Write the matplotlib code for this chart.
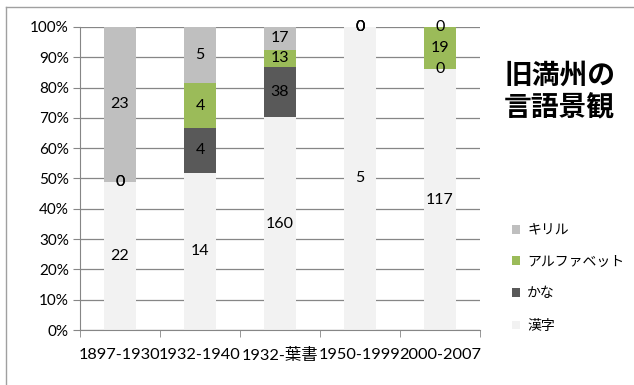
import matplotlib.pyplot as plt
import numpy as np

plt.rcParams['font.family'] = ['Lato', 'Noto Sans CJK JP', 'DejaVu Sans']

categories = ['1897-1930', '1932-1940', '1932-葉書', '1950-1999', '2000-2007']
kanji = [22, 14, 160, 5, 117]
kana = [0, 4, 38, 0, 0]
alphabet = [0, 4, 13, 0, 19]
cyrillic = [23, 5, 17, 0, 0]

series = [('漢字', kanji, '#f2f2f2'),
          ('かな', kana, '#595959'),
          ('アルファベット', alphabet, '#9bbb59'),
          ('キリル', cyrillic, '#bfbfbf')]

totals = np.array(kanji) + np.array(kana) + np.array(alphabet) + np.array(cyrillic)

fig = plt.figure(figsize=(6.34, 3.85), dpi=100)
ax = fig.add_axes([80 / 634, 1 - 330 / 385, 400 / 634, 303 / 385])

x = np.arange(len(categories))
bottom = np.zeros(len(categories))
handles = []
for name, vals, color in series:
    frac = np.array(vals) / totals
    b = ax.bar(x, frac, 0.4, bottom=bottom, color=color, label=name, zorder=2)
    handles.append(b)
    for i, v in enumerate(vals):
        ax.text(x[i], bottom[i] + frac[i] / 2, str(v), ha='center', va='center',
                fontsize=11.5, color='black', zorder=3)
    bottom += frac

ax.set_xlim(-0.5, len(categories) - 0.5)
ax.set_ylim(0, 1)
ax.set_yticks(np.arange(0, 1.01, 0.1))
ax.set_yticklabels(['%d%%' % (v * 10) for v in range(11)], fontsize=11)
ax.set_xticks(x)
ax.set_xticklabels(categories, fontsize=11.8)
ax.set_xticks(np.arange(-0.5, len(categories), 1), minor=True)
ax.tick_params(axis='x', which='major', length=0, pad=13)
ax.tick_params(axis='x', which='minor', length=5, color='#868686')
ax.tick_params(axis='y', length=5, color='#868686', pad=3)
ax.grid(axis='y', color='#868686', linewidth=0.9, zorder=1)
for s in ['top', 'right']:
    ax.spines[s].set_visible(False)
for s in ['left', 'bottom']:
    ax.spines[s].set_color('#868686')

fig.text(504 / 634, 1 - 92 / 385, '旧満州の\n言語景観', fontsize=20, fontweight='bold',
         family=['Noto Sans CJK JP'], va='center', ha='left', linespacing=1.25)

fig.legend(handles[::-1], [s[0] for s in series][::-1], loc='center left',
           bbox_to_anchor=(512 / 634, 1 - 278 / 385), frameon=False, fontsize=10,
           borderpad=0, borderaxespad=0,
           handlelength=0.6, handleheight=0.6, handletextpad=0.5, labelspacing=1.4)

# outer chart border
fig.add_artist(plt.Line2D([6 / 634, 6 / 634], [0, 1 - 7 / 385], color='#a0a0a0',
                          linewidth=1, transform=fig.transFigure))
fig.add_artist(plt.Line2D([6 / 634, 1], [1 - 7 / 385, 1 - 7 / 385], color='#a0a0a0',
                          linewidth=1, transform=fig.transFigure))

fig.savefig('out.png', dpi=100)
